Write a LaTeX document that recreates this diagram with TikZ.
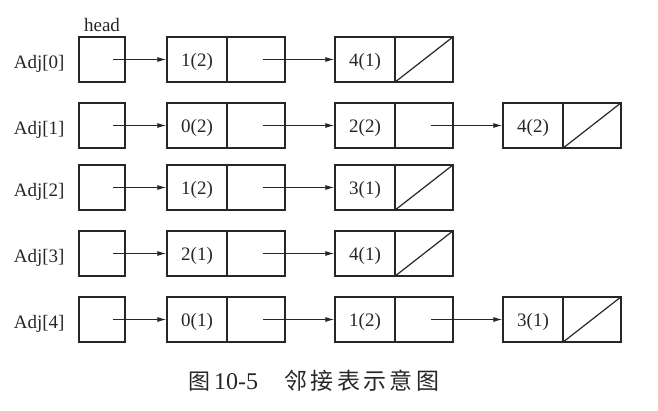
\documentclass[tikz,border=0pt]{standalone}
\usepackage{fontspec}
\setmainfont{Liberation Serif}
\newfontfamily\cjk[LetterSpace=15]{Noto Sans CJK SC}
\usetikzlibrary{arrows.meta}
\definecolor{ink}{gray}{0.15}
\begin{document}
\begin{tikzpicture}[x=1pt,y=-1pt,
  every node/.style={text=ink, font=\fontsize{19}{19}\selectfont},
  box/.style={draw=ink, line width=1.2pt, minimum height=45pt, inner sep=0pt},
  headbox/.style={box, minimum width=46pt},
  cellL/.style={box, minimum width=60pt, text height=14pt, text depth=0pt},
  cellR/.style={box, minimum width=58pt},
  lbl/.style={anchor=base east},
  link/.style={draw=ink, line width=1.1pt, -{Latex[length=9pt,width=5pt]}},
  nil/.style={draw=ink, line width=1.2pt}]
\useasboundingbox (0,0) rectangle (658,410);

% head label
\node[anchor=base] (headlbl) at (102,31) {head};

% Row 0
\node[lbl] (adj0) at (68,68) {Adj[0]};
\node[headbox] (h0) at (102,59.5) {};
\node[cellL] (a01) at (197,59.5) {1(2)};
\node[cellR] (b01) at (256,59.5) {};
\node[cellL] (a02) at (365,59.5) {4(1)};
\node[cellR] (b02) at (424,59.5) {};
\draw[nil] (b02.south west) -- (b02.north east);
\draw[link] ([xshift=11pt]h0.center) -- (a01.west);
\draw[link] ([xshift=7pt]b01.center) -- (a02.west);

% Row 1
\node[lbl] (adj1) at (68,134) {Adj[1]};
\node[headbox] (h1) at (102,125.5) {};
\node[cellL] (a11) at (197,125.5) {0(2)};
\node[cellR] (b11) at (256,125.5) {};
\node[cellL] (a12) at (365,125.5) {2(2)};
\node[cellR] (b12) at (424,125.5) {};
\node[cellL] (a13) at (533,125.5) {4(2)};
\node[cellR] (b13) at (592,125.5) {};
\draw[nil] (b13.south west) -- (b13.north east);
\draw[link] ([xshift=11pt]h1.center) -- (a11.west);
\draw[link] ([xshift=7pt]b11.center) -- (a12.west);
\draw[link] ([xshift=7pt]b12.center) -- (a13.west);

% Row 2
\node[lbl] (adj2) at (68,196) {Adj[2]};
\node[headbox] (h2) at (102,187.5) {};
\node[cellL] (a21) at (197,187.5) {1(2)};
\node[cellR] (b21) at (256,187.5) {};
\node[cellL] (a22) at (365,187.5) {3(1)};
\node[cellR] (b22) at (424,187.5) {};
\draw[nil] (b22.south west) -- (b22.north east);
\draw[link] ([xshift=11pt]h2.center) -- (a21.west);
\draw[link] ([xshift=7pt]b21.center) -- (a22.west);

% Row 3
\node[lbl] (adj3) at (68,262) {Adj[3]};
\node[headbox] (h3) at (102,253.5) {};
\node[cellL] (a31) at (197,253.5) {2(1)};
\node[cellR] (b31) at (256,253.5) {};
\node[cellL] (a32) at (365,253.5) {4(1)};
\node[cellR] (b32) at (424,253.5) {};
\draw[nil] (b32.south west) -- (b32.north east);
\draw[link] ([xshift=11pt]h3.center) -- (a31.west);
\draw[link] ([xshift=7pt]b31.center) -- (a32.west);

% Row 4
\node[lbl] (adj4) at (68,328) {Adj[4]};
\node[headbox] (h4) at (102,319.5) {};
\node[cellL] (a41) at (197,319.5) {0(1)};
\node[cellR] (b41) at (256,319.5) {};
\node[cellL] (a42) at (365,319.5) {1(2)};
\node[cellR] (b42) at (424,319.5) {};
\node[cellL] (a43) at (533,319.5) {3(1)};
\node[cellR] (b43) at (592,319.5) {};
\draw[nil] (b43.south west) -- (b43.north east);
\draw[link] ([xshift=11pt]h4.center) -- (a41.west);
\draw[link] ([xshift=7pt]b41.center) -- (a42.west);
\draw[link] ([xshift=7pt]b42.center) -- (a43.west);

% caption
\node[anchor=base west, inner sep=0pt, font=\fontsize{24}{24}\selectfont] (cap) at (188,389)
  {{\cjk\fontsize{22}{22}\selectfont 图}\hspace{4pt}10-5\hspace{26pt}{\cjk\fontsize{23}{23}\selectfont 邻接表示意图}};
\end{tikzpicture}
\end{document}
